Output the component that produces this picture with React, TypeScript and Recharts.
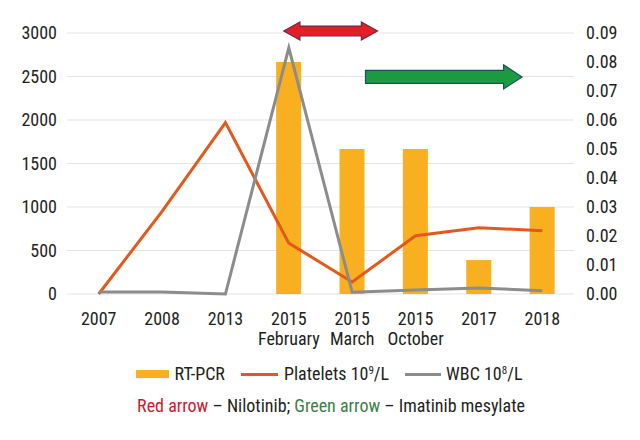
import {
  Bar,
  CartesianGrid,
  ComposedChart,
  Legend,
  Line,
  ReferenceArea,
  XAxis,
  YAxis,
} from "recharts";

const FONT = '"Roboto Condensed", "Liberation Sans Narrow", "DejaVu Sans Condensed", sans-serif';
const TEXT = "#231f20";
const BAR_COLOR = "#f8b020";
const PLATELET_COLOR = "#e2591b";
const WBC_COLOR = "#8c8c8c";

const categories = [
  "2007",
  "2008",
  "2013",
  "2015 February",
  "2015 March",
  "2015 October",
  "2017",
  "2018",
];
const rtPcr = [null, null, null, 0.08, 0.05, 0.05, 0.0117, 0.03];
const platelets = [0, 950, 1970, 585, 138, 670, 762, 728];
const wbc = [23, 23, 0, 2830, 20, 46, 69, 38];

const leftTicks = [0, 500, 1000, 1500, 2000, 2500, 3000];
const rightTicks = [0, 0.01, 0.02, 0.03, 0.04, 0.05, 0.06, 0.07, 0.08, 0.09];

// treatment arrows: category span and vertical extent on the right axis
const arrows = [
  { from: "2015 February", to: "2015 March", top: 0.0938, bottom: 0.0876, fill: "#e31e24", stroke: "#6b2a4a", double: true, startNudge: 0.42, endNudge: -0.1 },
  { from: "2015 March", to: "2018", top: 0.079, bottom: 0.0707, fill: "#1b9a3f", stroke: "#1f4e5f", double: false, startNudge: 0.71, endNudge: -0.82 },
];

const data = categories.map((name, i) => ({
  name,
  rtPcr: rtPcr[i],
  platelets: platelets[i],
  wbc: wbc[i],
}));

const BAND = 507 / categories.length;

function CategoryTick({ x, y, payload }: any) {
  const [year, ...rest] = String(payload.value).split(" ");
  return (
    <text x={x} y={y} textAnchor="middle" fill={TEXT} fontSize={18} fontFamily={FONT}>
      <tspan x={x} dy={23}>{year}</tspan>
      {rest.length > 0 && (
        <tspan x={x} dy={20}>{rest.join(" ")}</tspan>
      )}
    </text>
  );
}

function arrowShape(arrow: (typeof arrows)[number]) {
  return (props: any) => {
    const x0 = props.x + arrow.startNudge * BAND;
    const x1 = props.x + props.width + arrow.endNudge * BAND;
    const top = props.y;
    const h = props.height;
    const cy = top + h / 2;
    const shaft = h * 0.27;
    const head = h * 0.9;
    const pts = arrow.double
      ? [
          [x0, cy],
          [x0 + head, top],
          [x0 + head, cy - shaft],
          [x1 - head, cy - shaft],
          [x1 - head, top],
          [x1, cy],
          [x1 - head, top + h],
          [x1 - head, cy + shaft],
          [x0 + head, cy + shaft],
          [x0 + head, top + h],
        ]
      : [
          [x0, cy - shaft],
          [x1 - head * 0.85, cy - shaft],
          [x1 - head * 0.85, top],
          [x1, cy],
          [x1 - head * 0.85, top + h],
          [x1 - head * 0.85, cy + shaft],
          [x0, cy + shaft],
        ];
    return (
      <polygon
        points={pts.map((p) => p.join(",")).join(" ")}
        fill={arrow.fill}
        stroke={arrow.stroke}
        strokeWidth={1.2}
      />
    );
  };
}

function Sup({ children }: { children: string }) {
  return (
    <span style={{ fontSize: 11, position: "relative", top: -6, lineHeight: "11px" }}>{children}</span>
  );
}

function LegendBlock() {
  const item = { display: "inline-flex", alignItems: "center", margin: "0 8px" } as const;
  return (
    <div style={{ fontFamily: FONT, fontSize: 18, color: TEXT, textAlign: "center", lineHeight: "22px" }}>
      <div style={{ display: "flex", justifyContent: "center", paddingLeft: 18, height: 22 }}>
        <span style={item}>
          <span style={{ width: 33, height: 8, background: BAR_COLOR, marginRight: 6 }} />
          RT-PCR
        </span>
        <span style={item}>
          <span style={{ width: 37, height: 3, background: PLATELET_COLOR, marginRight: 6 }} />
          <span>Platelets 10<Sup>9</Sup>/L</span>
        </span>
        <span style={item}>
          <span style={{ width: 36, height: 3, background: WBC_COLOR, marginRight: 5 }} />
          <span>WBC 10<Sup>8</Sup>/L</span>
        </span>
      </div>
      <div style={{ marginTop: 10, paddingLeft: 22, height: 22 }}>
        <span style={{ color: "#d0172f" }}>Red arrow</span> – Nilotinib;{" "}
        <span style={{ color: "#3d7f46" }}>Green arrow</span> – Imatinib mesylate
      </div>
    </div>
  );
}

export default function App() {
  return (
    <div style={{ position: "absolute", left: 0, top: 0, background: "#fff" }}>
      <ComposedChart
        width={640}
        height={440}
        data={data}
        margin={{ top: 33, right: 0, bottom: 34, left: 0 }}
        barCategoryGap={0}
      >
        <CartesianGrid yAxisId="left" vertical={false} stroke="#e3e3e3" strokeWidth={1.2} />
        <XAxis
          dataKey="name"
          axisLine={false}
          tickLine={false}
          interval={0}
          height={58}
          tick={<CategoryTick />}
        />
        <YAxis
          yAxisId="left"
          domain={[0, 3000]}
          ticks={leftTicks}
          axisLine={false}
          tickLine={false}
          width={67}
          tickMargin={4}
          tick={{ fontSize: 18, fill: TEXT, fontFamily: FONT }}
        />
        <YAxis
          yAxisId="right"
          orientation="right"
          domain={[0, 0.09]}
          ticks={rightTicks}
          axisLine={false}
          tickLine={false}
          width={66}
          tickMargin={6}
          tickFormatter={(v: number) => v.toFixed(2)}
          tick={{ fontSize: 18, fill: TEXT, fontFamily: FONT }}
        />
        <Bar
          yAxisId="right"
          dataKey="rtPcr"
          name="RT-PCR"
          fill={BAR_COLOR}
          barSize={25}
          isAnimationActive={false}
        />
        <Line
          yAxisId="left"
          dataKey="platelets"
          name="Platelets"
          stroke={PLATELET_COLOR}
          strokeWidth={3}
          dot={false}
          type="linear"
          isAnimationActive={false}
        />
        <Line
          yAxisId="left"
          dataKey="wbc"
          name="WBC"
          stroke={WBC_COLOR}
          strokeWidth={3}
          dot={false}
          type="linear"
          isAnimationActive={false}
        />
        {arrows.map((arrow) => (
          <ReferenceArea
            key={arrow.from + arrow.to}
            yAxisId="right"
            x1={arrow.from}
            x2={arrow.to}
            y1={arrow.bottom}
            y2={arrow.top}
            ifOverflow="visible"
            shape={arrowShape(arrow)}
          />
        ))}
        <Legend
          verticalAlign="bottom"
          content={() => <LegendBlock />}
          wrapperStyle={{ left: 0, width: 640, top: 363 }}
        />
      </ComposedChart>
    </div>
  );
}
